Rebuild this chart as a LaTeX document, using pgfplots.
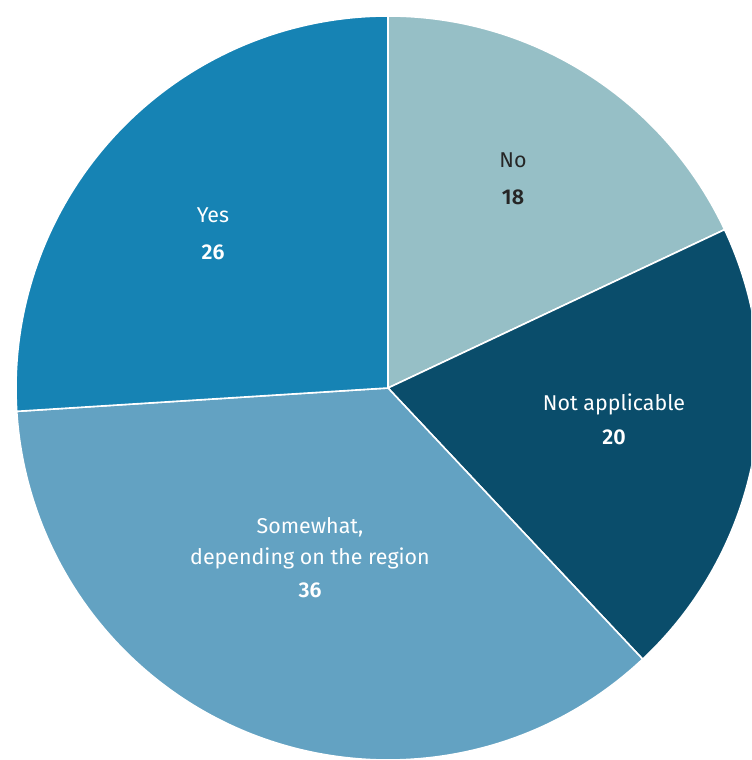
\documentclass[border=0pt]{standalone}
\usepackage{fontspec}
\setmainfont{Fira Sans}[BoldFont={Fira Sans SemiBold}]
\usepackage{pgfplots}
\pgfplotsset{compat=1.18}
\definecolor{cNo}{HTML}{96BFC6}
\definecolor{cNA}{HTML}{0A4D6B}
\definecolor{cSw}{HTML}{63A2C2}
\definecolor{cYes}{HTML}{1683B4}
\begin{document}
\begin{tikzpicture}
\begin{axis}[
  scale only axis, width=751bp, height=760bp,
  xmin=-388, xmax=363, ymin=-372, ymax=388,
  hide axis, clip=true,
]
% values (percent): No 18, Not applicable 20, Somewhat 36, Yes 26
\def\R{372}
\def\slice#1#2#3{% start angle, end angle, colour
  \fill[#3, draw=white, line width=1.6bp] (axis cs:0,0) -- (axis cs:{\R*cos(#1)},{\R*sin(#1)}) arc[start angle=#1, end angle=#2, radius=\R bp] -- cycle;}
\pgfmathsetmacro{\aA}{90}
\pgfmathsetmacro{\aB}{90-18*3.6}
\pgfmathsetmacro{\aC}{\aB-20*3.6}
\pgfmathsetmacro{\aD}{\aC-36*3.6}
\pgfmathsetmacro{\aE}{\aD-26*3.6}
\slice{\aA}{\aB}{cNo}
\slice{\aB}{\aC}{cNA}
\slice{\aC}{\aD}{cSw}
\slice{\aD}{\aE}{cYes}
\tikzset{lab/.style={font=\fontsize{21.5}{24}\selectfont, text=white, inner sep=0pt}}
\node[lab, text=black!85] at (axis cs:125,228) {No};
\node[lab, text=black!85, font=\fontsize{21.5}{24}\selectfont\bfseries] at (axis cs:125,191) {18};
\node[lab] at (axis cs:226,-16) {Not applicable};
\node[lab, font=\fontsize{21.5}{24}\selectfont\bfseries] at (axis cs:226,-49) {20};
\node[lab] at (axis cs:-78,-139) {Somewhat,};
\node[lab] at (axis cs:-78,-170) {depending on the region};
\node[lab, font=\fontsize{21.5}{24}\selectfont\bfseries] at (axis cs:-78,-202) {36};
\node[lab] at (axis cs:-175,173) {Yes};
\node[lab, font=\fontsize{21.5}{24}\selectfont\bfseries] at (axis cs:-175,136) {26};
\end{axis}
\pgfresetboundingbox
\useasboundingbox (current axis.south west) rectangle (current axis.north east);
\end{tikzpicture}
\end{document}
